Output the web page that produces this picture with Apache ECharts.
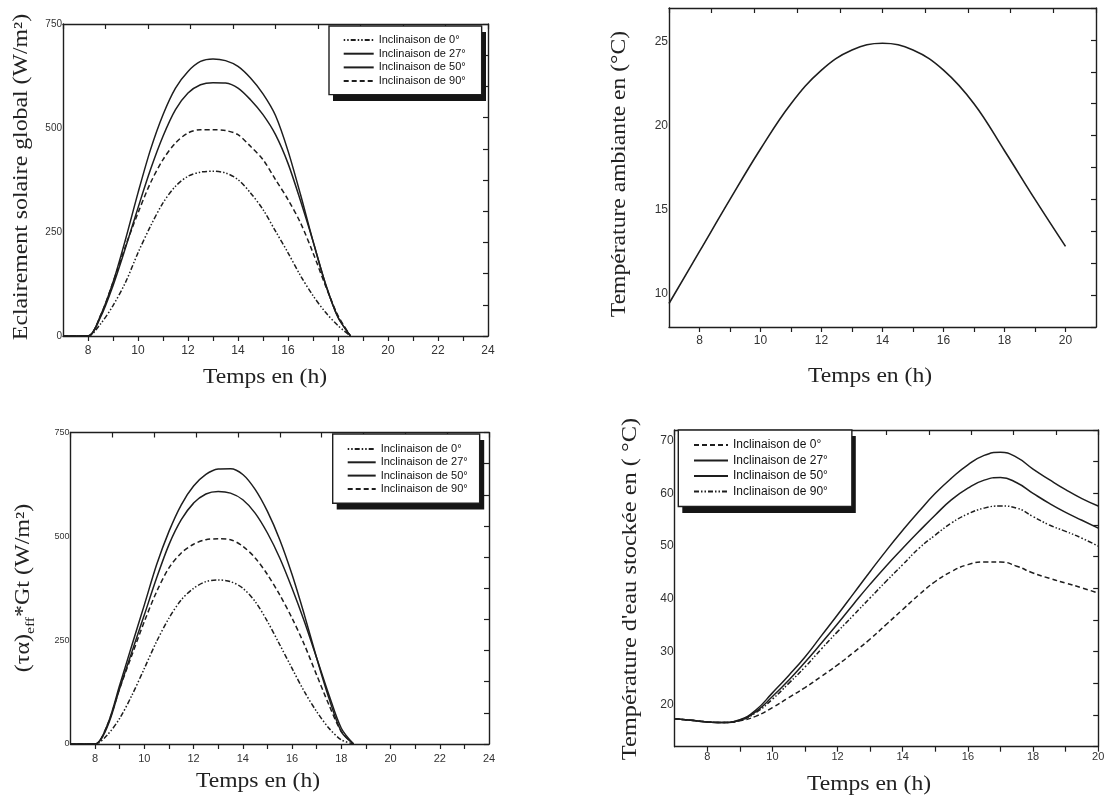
<!DOCTYPE html>
<html><head><meta charset="utf-8">
<script src="https://cdn.jsdelivr.net/npm/echarts@6/dist/echarts.min.js"></script>
<style>html,body{margin:0;padding:0;background:#fff}#c{width:1108px;height:796px}</style>
</head><body><div id="c"></div>
<script>
// ---- Panel 1: Eclairement solaire global (W/m²)
const hoursG = [7,8,8.5,9,9.5,10,10.5,11,11.5,12,12.5,13,13.5,14,14.5,15,15.5,16,16.5,17,17.5,18,18.5];
const g0  = [0,0,29,73,129,200,264,320,360,384,394,396,392,376,344,304,252,200,145,97,57,25,0];
const g27 = [0,0,49,129,232,344,448,532,596,636,660,666,662,648,620,582,530,445,340,228,125,45,0];
const g50 = [0,0,45,121,212,308,400,480,544,584,604,609,608,596,568,532,484,415,325,228,125,45,0];
const g90 = [0,0,49,129,216,296,368,424,464,488,496,496,494,484,456,424,376,328,272,200,121,49,0];

// ---- Panel 2: Température ambiante (°C)
const hoursA = [7,8,9,10,11,12,13,14,15,16,17,18,19,20];
const ambTemp = [9.4,12.5,15.6,18.6,21.3,23.3,24.5,24.9,24.5,23.3,21.3,18.5,15.6,12.8];

// ---- Panel 3: (τα)eff*Gt (W/m²)
const hoursE = [7,8,8.5,9,9.5,10,10.5,11,11.5,12,12.5,13,13.5,14,14.5,15,15.5,16,16.5,17,17.5,18,18.5];
const e0  = [0,0,22,62,118,182,247,303,347,375,391,395,391,375,343,295,239,182,126,78,38,10,0];
const e27 = [0,0,46,142,239,335,432,512,576,621,649,662,663,649,613,560,492,408,311,207,110,30,0];
const e50 = [0,0,42,134,223,311,400,480,540,580,602,608,604,588,556,508,448,375,295,207,118,38,0];
const e90 = [0,0,46,134,215,295,367,424,460,481,492,494,492,476,448,408,359,303,239,166,94,30,0];

// ---- Panel 4: Température d'eau stockée (°C)
const hoursT = [7,7.5,8,8.5,9,9.5,10,10.5,11,11.5,12,12.5,13,13.5,14,14.5,15,15.5,16,16.5,17,17.5,18,18.5,19,19.5,20];
const t0  = [17.3,17.0,16.7,16.6,16.9,17.8,19.4,21.3,23.2,25.3,27.5,29.9,32.4,35.2,38.0,40.8,43.3,45.2,46.5,47.0,47.0,46.2,44.9,43.9,43.0,42.1,41.1];
const t27 = [17.3,17.0,16.7,16.6,17.1,19.0,22.2,25.5,29.0,33.0,37.0,41.1,45.2,49.2,53.0,56.6,60.0,62.9,65.4,67.2,67.8,66.8,64.6,62.6,60.7,59.0,57.6];
const t50 = [17.3,17.0,16.7,16.6,17.0,18.7,21.5,24.6,28.0,31.6,35.3,39.1,42.8,46.3,49.6,52.8,55.9,58.8,61.0,62.5,63.0,62.0,60.0,58.1,56.4,54.9,53.4];
const t90 = [17.3,17.0,16.7,16.6,17.0,18.5,21.0,24.0,27.1,30.5,33.8,37.0,40.2,43.4,46.5,49.6,52.1,54.4,56.1,57.2,57.6,57.2,55.6,54.0,52.8,51.5,50.0];

// ---- Texts and ticks
const legendLabels = ['Inclinaison de 0°','Inclinaison de 27°','Inclinaison de 50°','Inclinaison de 90°'];
const xTitle = 'Temps en (h)';
const yTitle1 = 'Eclairement solaire global (W/m²)';
const yTitle2 = 'Température ambiante en (°C)';
const yTitle4 = "Température d'eau stockée en ( °C)";
const xLabels24 = [8,10,12,14,16,18,20,22,24];
const xTicks24 = [8,9,10,11,12,13,14,15,16,17,18,19,20,21,22,23];
const xLabels20 = [8,10,12,14,16,18,20];
const xTicks20 = [8,9,10,11,12,13,14,15,16,17,18,19,20];
const yLabelsW = [0,250,500,750];
const yLabelsA = [10,15,20,25];
const yLabelsT = [20,30,40,50,60,70];

const INK = '#1e1e1e';
const SANS = '"Liberation Sans", Arial, sans-serif';
const SERIF = '"Liberation Serif", "Times New Roman", serif';

function pairs(xs, ys){ return xs.map((x,i)=>[x, ys[i]]); }

const grids = [
  {left:63, top:24, width:425, height:312},
  {left:669, top:8, width:427, height:319},
  {left:70.5, top:432.5, width:418.5, height:311.5},
  {left:674.7, top:430, width:423.5, height:316.7}
];

const xAxes = [], yAxes = [];
function addPanel(gi, xmin, xmax, xLab, xTk, xfs, xmargin, ymin, ymax, yLab, yfs){
  const line = {show:true, onZero:false, lineStyle:{color:INK, width:1.4}};
  xAxes.push({type:'value', gridIndex:gi, position:'bottom', min:xmin, max:xmax,
    axisLine:line, splitLine:{show:false},
    axisTick:{show:true, inside:false, length:5, customValues:xTk, lineStyle:{color:INK, width:1.2}},
    axisLabel:{show:true, customValues:xLab, margin:xmargin, fontSize:xfs, fontFamily:SANS, color:'#333'}});
  xAxes.push({type:'value', gridIndex:gi, position:'top', min:xmin, max:xmax, interval:(xmax-xmin)/10,
    axisLine:line, splitLine:{show:false},
    axisTick:{show:true, inside:true, length:5, lineStyle:{color:INK, width:1.2}},
    axisLabel:{show:false}});
  yAxes.push({type:'value', gridIndex:gi, position:'left', min:ymin, max:ymax,
    axisLine:line, splitLine:{show:false},
    axisTick:{show:false},
    axisLabel:{show:true, customValues:yLab, margin:1, fontSize:yfs, fontFamily:SANS, color:'#333'}});
  yAxes.push({type:'value', gridIndex:gi, position:'right', min:ymin, max:ymax, interval:(ymax-ymin)/10,
    axisLine:line, splitLine:{show:false},
    axisTick:{show:true, inside:true, length:5, lineStyle:{color:INK, width:1.2}},
    axisLabel:{show:false}});
}
addPanel(0, 7, 24, xLabels24, xTicks24, 12, 9, 0, 750, yLabelsW, 10);
addPanel(1, 7, 21, xLabels20, xTicks20, 12, 8, 8, 27, yLabelsA, 12);
addPanel(2, 7, 24, xLabels24, xTicks24, 11, 9, 0, 750, yLabelsW, 9);
addPanel(3, 7, 20, xLabels20, xTicks20, 11, 5, 12, 72, yLabelsT, 12);

const DOTDASH = [1.5,2,1.5,2,5,2];
const DASH = [5,3];
const labelMap = {};
const series = [];
function addSeries(panel, key, idx, xs, ys, dash, sm){
  const name = 'p' + panel + '_' + key;
  labelMap[name] = legendLabels[idx];
  series.push({type:'line', name, xAxisIndex:(panel-1)*2, yAxisIndex:(panel-1)*2,
    data:pairs(xs, ys), symbol:'none', showSymbol:false, smooth:sm, animation:false,
    lineStyle:{color:INK, width:1.5, type:dash}, itemStyle:{color:INK}, emphasis:{disabled:true}});
  return name;
}
const L1 = [addSeries(1,'0',0,hoursG,g0,DOTDASH,0.3), addSeries(1,'27',1,hoursG,g27,'solid',0.3),
            addSeries(1,'50',2,hoursG,g50,'solid',0.3), addSeries(1,'90',3,hoursG,g90,DASH,0.3)];
series.push({type:'line', name:'p2_amb', xAxisIndex:2, yAxisIndex:2, data:pairs(hoursA, ambTemp),
  symbol:'none', smooth:0.4, lineStyle:{color:INK, width:1.6}, itemStyle:{color:INK}, emphasis:{disabled:true}});
const L3 = [addSeries(3,'0',0,hoursE,e0,DOTDASH,0.3), addSeries(3,'27',1,hoursE,e27,'solid',0.3),
            addSeries(3,'50',2,hoursE,e50,'solid',0.3), addSeries(3,'90',3,hoursE,e90,DASH,0.3)];
const L4 = [addSeries(4,'0',0,hoursT,t0,DASH,0.5), addSeries(4,'27',1,hoursT,t27,'solid',0.5),
            addSeries(4,'50',2,hoursT,t50,'solid',0.5), addSeries(4,'90',3,hoursT,t90,[5,2,1.5,2,1.5,2],0.5)];

function legendBox(data, left, top, fs, iw, ih, gap, pad){
  return {data, left, top, orient:'vertical', selectedMode:false, formatter:n=>labelMap[n], z:10,
    itemWidth:iw, itemHeight:ih, itemGap:gap, padding:pad,
    itemStyle:{opacity:0, borderWidth:0},
    backgroundColor:'#fff', borderColor:INK, borderWidth:1.4, borderRadius:0,
    textStyle:{fontSize:fs, fontFamily:SANS, color:'#111', lineHeight:ih}};
}
const legends = [
  legendBox(L1, 329, 26, 11, 30, 11, 2.7, [8.5,16,8,13.7]),
  legendBox(L3, 332.7, 434, 11, 28, 11, 2.3, [9.5,12,8.8,14]),
  legendBox(L4, 678.3, 430, 12, 34, 12, 3.5, [9,24,9,14.7])
];

function shadowRect(x, y, w, h){
  return {type:'rect', z:1, shape:{x:x+4, y:y+6, width:w, height:h}, style:{fill:'#151515'}};
}
function titleText(text, x, y, rot, sx){
  return {type:'text', x, y, rotation:rot, scaleX:sx, z:100,
    style:{text, font:'20px ' + SERIF, fill:'#222', textAlign:'center', textVerticalAlign:'middle', align:'center', verticalAlign:'middle'}};
}
const R = Math.PI/2;
const graphics = [
  shadowRect(329, 26, 153, 69),
  shadowRect(332.7, 434, 147.5, 69.5),
  shadowRect(678.3, 430, 173.5, 77),
  titleText(yTitle1, 22, 177, R, 1.19),
  titleText(xTitle, 265, 378, 0, 1.18),
  titleText(yTitle2, 620, 174, R, 1.18),
  titleText(xTitle, 870, 377, 0, 1.18),
  {type:'text', x:24, y:588, rotation:R, scaleX:1.2, z:100,
    style:{text:'{a|(τα)}{b|eff}{a|*Gt (W/m²)}', fill:'#222', textAlign:'center', textVerticalAlign:'middle', align:'center', verticalAlign:'middle',
      rich:{a:{fontSize:20, fontFamily:SERIF, fill:'#222', lineHeight:26, verticalAlign:'middle'},
            b:{fontSize:13, fontFamily:SERIF, fill:'#222', lineHeight:13, verticalAlign:'bottom'}}}},
  titleText(xTitle, 258, 782, 0, 1.18),
  titleText(yTitle4, 631, 589, R, 1.22),
  titleText(xTitle, 869, 785, 0, 1.18)
];

const chart = echarts.init(document.getElementById('c'), null, {renderer:'canvas'});
chart.setOption({
  animation:false,
  backgroundColor:'#fff',
  grid:grids,
  xAxis:xAxes,
  yAxis:yAxes,
  legend:legends,
  series,
  graphic:graphics
});
</script></body></html>
